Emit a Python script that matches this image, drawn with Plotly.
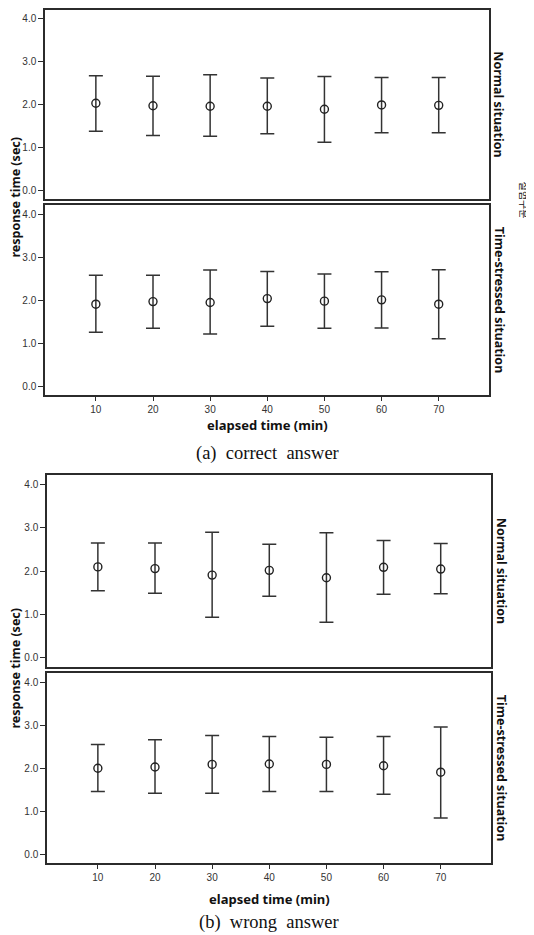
import plotly.graph_objects as go

# The page body has an 8px default margin, so the figure is drawn 8px smaller
# and all reference pixel positions are shifted by OFF.
OFF = 8
W, H = 534 - OFF, 935 - OFF

# ---------------- data ----------------
times = [10, 20, 30, 40, 50, 60, 70]
y_tick_vals = [0, 1, 2, 3, 4]
y_tick_text = ["0.0", "1.0", "2.0", "3.0", "4.0"]
x_tick_text = ["10", "20", "30", "40", "50", "60", "70"]

# (a) correct answer
a_normal_mean = [2.02, 1.96, 1.95, 1.95, 1.88, 1.98, 1.97]
a_normal_low = [1.37, 1.27, 1.25, 1.31, 1.11, 1.33, 1.33]
a_normal_high = [2.66, 2.65, 2.68, 2.61, 2.64, 2.62, 2.62]

a_stress_mean = [1.91, 1.97, 1.95, 2.04, 1.98, 2.01, 1.91]
a_stress_low = [1.26, 1.35, 1.22, 1.40, 1.35, 1.36, 1.11]
a_stress_high = [2.58, 2.58, 2.70, 2.67, 2.61, 2.66, 2.71]

# (b) wrong answer
b_normal_mean = [2.10, 2.06, 1.91, 2.02, 1.85, 2.09, 2.05]
b_normal_low = [1.55, 1.49, 0.94, 1.42, 0.82, 1.47, 1.48]
b_normal_high = [2.65, 2.65, 2.90, 2.62, 2.89, 2.71, 2.64]

b_stress_mean = [2.00, 2.03, 2.09, 2.10, 2.09, 2.06, 1.91]
b_stress_low = [1.46, 1.42, 1.42, 1.46, 1.46, 1.40, 0.85]
b_stress_high = [2.55, 2.66, 2.76, 2.74, 2.72, 2.74, 2.96]

strip_labels = ["Normal situation", "Time-stressed situation"]
y_title = "response time (sec)"
x_title = "elapsed time (min)"
group_title = "실험구분"
captions = ["(a)  correct  answer", "(b)  wrong  answer"]

# ---------------- layout geometry (reference pixels) ----------------
panels = [
    # x0, x1, y0(top), y1(bottom), y-range top
    (45, 489, 8, 197, 4.19),
    (45, 489, 203, 394, 4.22),
    (47, 491, 474, 666, 4.22),
    (47, 491, 672, 863, 4.22),
]
series = [
    (a_normal_mean, a_normal_low, a_normal_high),
    (a_stress_mean, a_stress_low, a_stress_high),
    (b_normal_mean, b_normal_low, b_normal_high),
    (b_stress_mean, b_stress_low, b_stress_high),
]


def px(x):
    return min(1.0, max(0.0, (x - OFF) / W))


def py(y):
    return min(1.0, max(0.0, 1 - (y - OFF) / H))


AX = "#2b2b2b"
fig = go.Figure()
layout = dict(
    width=W, height=H,
    margin=dict(l=0, r=0, t=0, b=0),
    paper_bgcolor="white", plot_bgcolor="white",
    showlegend=False,
)

for i, ((x0, x1, y0, y1, ytop), (m, lo, hi)) in enumerate(zip(panels, series)):
    k = "" if i == 0 else str(i + 1)
    fig.add_trace(go.Scatter(
        x=times, y=m, mode="markers",
        xaxis="x" + k, yaxis="y" + k,
        marker=dict(symbol="circle-open", size=8, color="#222",
                    line=dict(width=1.4, color="#222")),
        error_y=dict(type="data", symmetric=False,
                     array=[h - v for h, v in zip(hi, m)],
                     arrayminus=[v - l for v, l in zip(m, lo)],
                     color="#333", thickness=1.5, width=7),
        hoverinfo="skip",
    ))
    bottom = i in (1, 3)
    layout["xaxis" + k] = dict(
        domain=[px(x0), px(x1)], range=[1.1, 78.8],
        anchor="y" + k,
        showgrid=False, zeroline=False,
        showline=True, mirror=True, linecolor=AX, linewidth=1.5,
        tickmode="array", tickvals=times, ticktext=x_tick_text,
        ticks="outside" if bottom else "", ticklen=4, tickcolor=AX,
        showticklabels=bottom,
        tickfont=dict(family="Liberation Sans", size=10, color="#333"),
    )
    layout["yaxis" + k] = dict(
        domain=[py(y1), py(y0)], range=[-0.2, ytop],
        anchor="x" + k,
        showgrid=False, zeroline=False,
        showline=True, mirror=True, linecolor=AX, linewidth=1.5,
        tickmode="array", tickvals=y_tick_vals, ticktext=y_tick_text,
        ticks="outside", ticklen=5, tickcolor=AX,
        tickfont=dict(family="Liberation Sans", size=10, color="#333"),
    )

fig.update_layout(**layout)


def ann(text, xp, yp, size, family="Noto Sans", angle=0, color="#111"):
    fig.add_annotation(
        text=text, x=px(xp), y=py(yp), xref="paper", yref="paper",
        xanchor="center", yanchor="middle", showarrow=False,
        textangle=angle, borderpad=0,
        font=dict(family=family, size=size, color=color),
    )


# strip labels
for (x0, x1, y0, y1, _), lab in zip(panels, strip_labels * 2):
    ann("<b>%s</b>" % lab, x1 + 10, (y0 + y1) / 2, 12.5, angle=90)

ann(group_title, 524, 198, 10, family="Noto Sans CJK KR", angle=90)

# axis titles
ann("<b>%s</b>" % y_title, 16, 196, 12.5, angle=-90)
ann("<b>%s</b>" % y_title, 16, 668, 12.5, angle=-90)
ann("<b>%s</b>" % x_title, 267, 424, 13)
ann("<b>%s</b>" % x_title, 269, 899, 13)

# captions
ann(captions[0], 267, 452, 18.5, family="Liberation Serif")
ann(captions[1], 269, 922, 18.5, family="Liberation Serif")

fig.write_html("out.html")
